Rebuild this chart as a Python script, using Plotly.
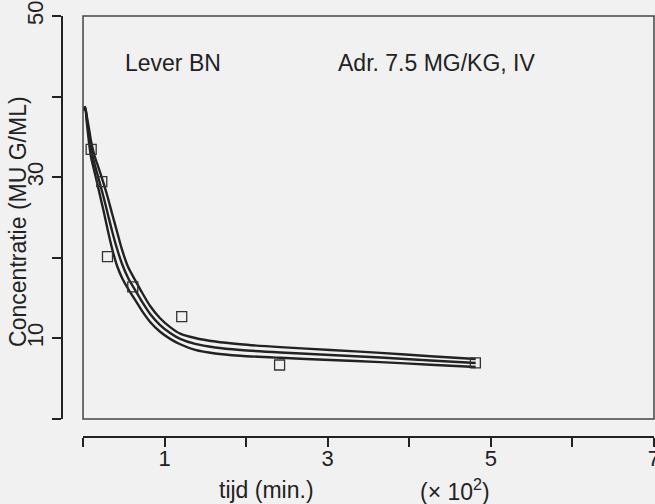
import plotly.graph_objects as go

# Curve abscissae (×100 min) and the three fitted curves
curve_x = [0.006, 0.025, 0.049, 0.074, 0.098, 0.135, 0.172, 0.209, 0.258, 0.307,
           0.356, 0.418, 0.479, 0.553, 0.639, 0.725, 0.823, 0.945, 1.068, 1.191,
           1.375, 1.621, 1.928, 2.419, 3.033, 3.647, 4.261, 4.814]
curve_mid = [38.3, 38.7, 36.97, 35.11, 33.50, 31.89, 30.52, 29.16, 27.30, 25.31,
             23.33, 21.09, 19.23, 17.49, 16.00, 14.52, 13.03, 11.66, 10.67, 9.93,
             9.31, 8.87, 8.56, 8.25, 7.94, 7.63, 7.26, 6.95]
curve_upper = [38.3, 38.7, 37.40, 35.98, 34.49, 32.88, 31.70, 30.61, 29.04, 27.36,
               25.50, 23.20, 20.97, 18.85, 17.23, 15.66, 14.02, 12.50, 11.40, 10.59,
               10.05, 9.61, 9.27, 8.91, 8.56, 8.20, 7.79, 7.45]
curve_lower = [38.3, 38.7, 36.54, 34.24, 32.51, 30.90, 29.34, 27.71, 25.56, 23.26,
               21.16, 18.98, 17.49, 16.13, 14.77, 13.38, 12.04, 10.82, 9.94, 9.27,
               8.57, 8.13, 7.85, 7.59, 7.32, 7.06, 6.73, 6.45]

# Measured points
obs_t = [0.10, 0.23, 0.30, 0.61, 1.21, 2.41, 4.81]
obs_c = [33.46, 29.44, 20.14, 16.38, 12.69, 6.70, 6.95]

# Ticks: labelled majors and unlabelled minors
x_major = [1, 3, 5, 7]
x_major_text = ["1", "3", "5", "7"]
x_minor = [0, 2, 4, 6]
y_major = [10, 30, 50]
y_major_text = ["10", "30", "50"]
y_minor = [0, 20, 40]

FONT = "Liberation Sans, Arial, sans-serif"
INK = "#222222"
FS = 22

fig = go.Figure()
for ys in (curve_upper, curve_mid, curve_lower):
    fig.add_trace(go.Scatter(x=curve_x, y=ys, mode="lines",
                             line=dict(color=INK, width=2.4, shape="spline", smoothing=0.8),
                             hoverinfo="skip", showlegend=False))
fig.add_trace(go.Scatter(x=obs_t, y=obs_c, mode="markers",
                         marker=dict(symbol="square-open", size=10, color="#333333",
                                     line=dict(width=1.3, color="#333333")),
                         showlegend=False))

minor_style = dict(ticks="outside", ticklen=9, tickwidth=2, tickcolor=INK, showgrid=False)

fig.update_layout(
    width=655, height=504,
    margin=dict(l=62, r=1, t=16, b=67, autoexpand=False),
    paper_bgcolor="#f1f1f1", plot_bgcolor="#f1f1f1",
    font=dict(family=FONT, size=FS, color=INK),
    showlegend=False,
    xaxis=dict(domain=[0.0355, 1], range=[0, 7], anchor="free", position=0,
               automargin=False, ticklabeloverflow="allow", ticklabelstandoff=-7,
               showline=True, linewidth=2, linecolor=INK,
               ticks="outside", ticklen=9, tickwidth=2, tickcolor=INK,
               tickvals=x_major, ticktext=x_major_text,
               minor=dict(tickvals=x_minor, **minor_style),
               showgrid=False, zeroline=False,
               tickfont=dict(family=FONT, size=FS, color=INK)),
    yaxis=dict(domain=[0.0428, 1], range=[0, 50], anchor="free", position=0,
               automargin=False, ticklabeloverflow="allow",
               showline=True, linewidth=2, linecolor=INK,
               ticks="outside", ticklen=9, tickwidth=2, tickcolor=INK,
               tickvals=y_major, ticktext=y_major_text, tickangle=-90,
               minor=dict(tickvals=y_minor, **minor_style),
               showgrid=False, zeroline=False,
               tickfont=dict(family=FONT, size=FS, color=INK)),
)

fig.add_shape(type="rect", xref="x domain", yref="y domain", x0=0, x1=1, y0=0, y1=1,
              line=dict(color="#444444", width=1.5), layer="above")

ann = dict(showarrow=False, xref="paper", yref="paper", xanchor="center", yanchor="middle",
           font=dict(family=FONT, size=FS + 1, color=INK))
fig.add_annotation(text="Lever BN", x=0.1875, y=0.888, **ann)
fig.add_annotation(text="Adr. 7.5 MG/KG, IV", x=0.633, y=0.888, **ann)
fig.add_annotation(text="Concentratie (MU G/ML)", x=-0.0743, y=0.511, textangle=-90, **ann)
fig.add_annotation(text="tijd (min.)", x=0.3446, y=-0.1259, **ann)
fig.add_annotation(text="(× 10<sup>2</sup>)", x=0.664, y=-0.1259, **ann)

fig.write_html("out.html", config={"displayModeBar": False},
               post_script="document.body.style.margin='0px';document.body.style.padding='0px';"
                           "document.body.style.overflow='hidden';")
